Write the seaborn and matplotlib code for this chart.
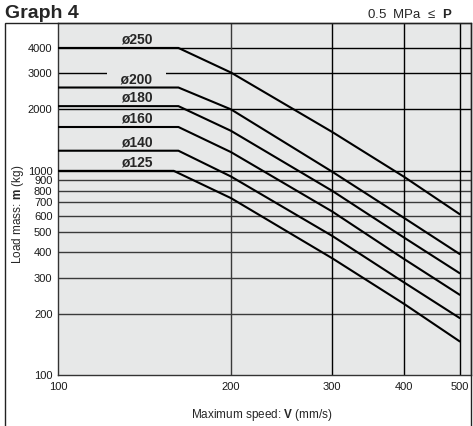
import pandas as pd
import matplotlib
matplotlib.use("Agg")
import matplotlib.pyplot as plt
import matplotlib.patches as mpatches
import seaborn as sns

# =========================
# DATA
# =========================
bores = ["ø250", "ø200", "ø180", "ø160", "ø140", "ø125"]
speeds_250 = [100, 162, 200, 300, 400, 500]
speeds_200 = [100, 162, 200, 300, 400, 500]
speeds_180 = [100, 162, 200, 300, 400, 500]
speeds_160 = [100, 162, 200, 300, 400, 500]
speeds_140 = [100, 162, 200, 300, 400, 500]
speeds_125 = [100, 159, 200, 300, 400, 500]
mass_250 = [4000, 4000, 3030, 1550, 935, 613]
mass_200 = [2560, 2560, 2000, 990, 588, 391]
mass_180 = [2075, 2075, 1570, 798, 471, 315]
mass_160 = [1640, 1640, 1235, 632, 370, 247]
mass_140 = [1255, 1255, 938, 480, 284, 190]
mass_125 = [1000, 1000, 735, 373, 223, 146]

y_ticks = [100, 200, 300, 400, 500, 600, 700, 800, 900, 1000, 2000, 3000, 4000]
x_ticks = [100, 200, 300, 400, 500]

speeds = [speeds_250, speeds_200, speeds_180, speeds_160, speeds_140, speeds_125]
masses = [mass_250, mass_200, mass_180, mass_160, mass_140, mass_125]

rows = []
for b, sp, ms in zip(bores, speeds, masses):
    for s, m in zip(sp, ms):
        rows.append({"bore": b, "speed": s, "mass": m})
df = pd.DataFrame(rows)

# =========================
# STYLE
# =========================
sns.set_style("white")
plt.rcParams["font.family"] = ["Liberation Sans", "DejaVu Sans"]
plt.rcParams["mathtext.fontset"] = "custom"
plt.rcParams["mathtext.rm"] = "Liberation Sans"
plt.rcParams["mathtext.bf"] = "Liberation Sans:bold"

bg = "#e7e8e8"
gridc = "#3a3a3a"

fig = plt.figure(figsize=(4.73, 4.26), dpi=100)
ax = fig.add_axes([58 / 473, 51 / 426, 413 / 473, 352 / 426])
ax.set_facecolor(bg)

# outer frame
fig.patches.append(mpatches.Rectangle((5 / 473, -0.02), 466 / 473, 0.02 + 403 / 426,
                                      transform=fig.transFigure, fill=False,
                                      edgecolor="#222222", linewidth=1.0))

sns.lineplot(data=df, x="speed", y="mass", hue="bore", units="bore", estimator=None,
             palette=["black"] * len(bores), linewidth=1.5, legend=False,
             sort=False, ax=ax, zorder=4)

ax.set_xscale("log")
ax.set_yscale("log")
ax.set_xlim(100, 523)
ax.set_ylim(100, 5300)

for y in y_ticks[1:]:
    ax.axhline(y, color="black" if y >= 1000 else gridc, linewidth=1.0, zorder=1)
for x in x_ticks[1:]:
    ax.axvline(x, color=gridc if x == 200 else "black", linewidth=1.0, zorder=1)

ax.set_xticks(x_ticks)
ax.set_xticklabels([str(v) for v in x_ticks])
ax.set_yticks(y_ticks)
ax.set_yticklabels([str(v) for v in y_ticks])
ax.minorticks_off()
ax.tick_params(axis="both", length=0, labelsize=8, colors="#1a1a1a")
ax.tick_params(axis="y", pad=4)
ax.tick_params(axis="x", pad=5)

for sp in ax.spines.values():
    sp.set_color("#333333")
    sp.set_linewidth(1.0)

# bore labels
for b, ms in zip(bores, masses):
    kw = {}
    text = b
    if b == "ø200":
        text = "   " + b + "   "
        kw["bbox"] = dict(boxstyle="square,pad=0.15", facecolor=bg, edgecolor="none")
    ax.annotate(text, xy=(137, ms[0]), xytext=(0, 3), textcoords="offset points",
                ha="center", va="baseline", fontsize=10, fontweight="bold",
                zorder=2, **kw)

ax.set_xlabel(r"Maximum speed: $\mathbf{V}$ (mm/s)", fontsize=8.5)
ax.xaxis.set_label_coords(0.493, -0.09)
ax.set_ylabel(r"Load mass: $\mathbf{m}$ (kg)", fontsize=8.5)
ax.yaxis.set_label_coords(-0.078, 0.457)

fig.text(5 / 473, 1 - 14 / 426, "Graph 4", fontsize=14, fontweight="bold",
         ha="left", va="center")
fig.text(367 / 473, 1 - 14 / 426, r"0.5  MPa  ≤  $\mathbf{P}$", fontsize=9.5,
         ha="left", va="center")

fig.savefig("out.png", dpi=100)
